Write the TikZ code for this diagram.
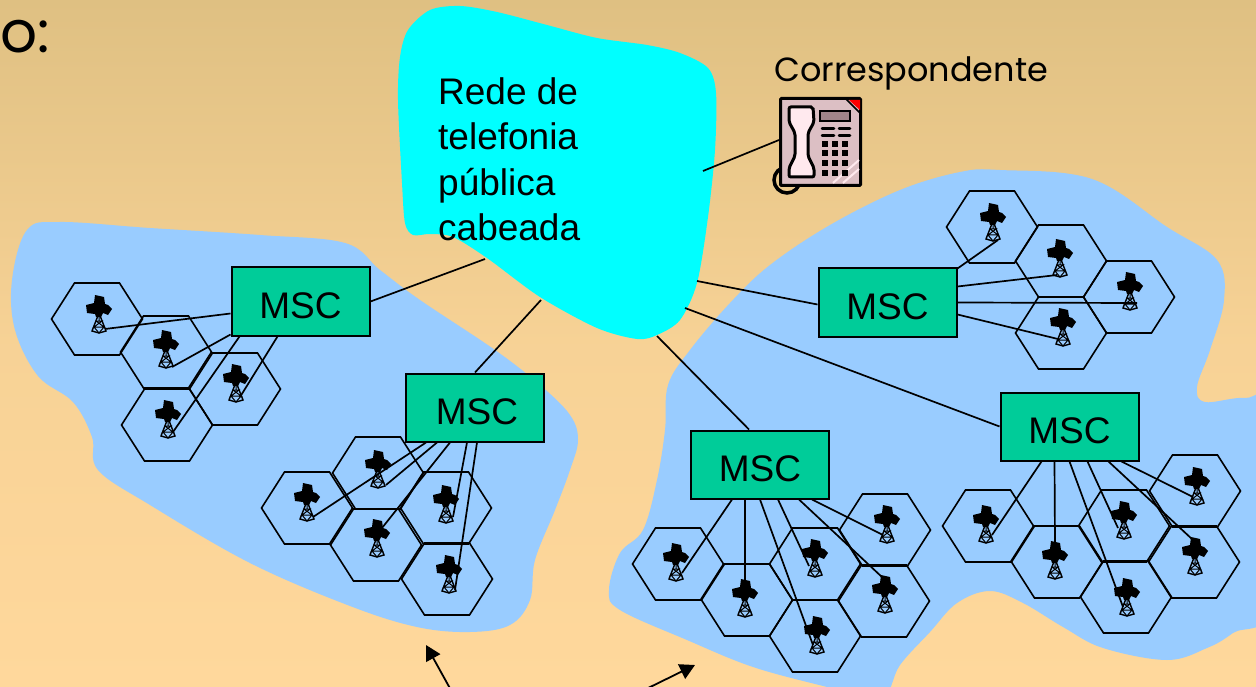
\documentclass[tikz,border=0pt]{standalone}
\usepackage{fontspec}
\setmainfont{Liberation Sans}
\newfontfamily\comicfont{Poppins}
\usetikzlibrary{arrows.meta}
\definecolor{sandTop}{HTML}{DFC082}
\definecolor{sandLow}{HTML}{FFD89C}
\definecolor{areaBlue}{HTML}{99CCFF}
\definecolor{netCyan}{RGB}{0,255,255}
\definecolor{mscGreen}{HTML}{00CC99}
\definecolor{phoneBody}{HTML}{DCBFC4}
\definecolor{phoneLight}{HTML}{FFE9EE}
\definecolor{phoneScreen}{HTML}{A08589}
\tikzset{
    msc/.style={
        draw, fill = mscGreen, line width = 2pt,
        minimum width = 138pt,
        minimum height = 68pt,
        inner sep = 0pt,
        text height = 34pt,
        text depth = 0pt,
        font = \fontsize{37}{37}\selectfont
    },
    line/.style = {line width = 1.7pt},
    pointer/.style = {line width = 1.8pt, -{Triangle[length=15pt,width=16pt]}},
    pics/hexcell/.style = {code = {
        \draw[line width = 1.6pt] (-45.5,0) -- (-22.5,-36) -- (22.5,-36) -- (45.5,0) -- (22.5,36) -- (-22.5,36) -- cycle;
    }},
    pics/tower/.style = {code = {
        \fill (-4,-38) -- (5,-36) -- (6,-29) -- (9,-28) -- (13,-24) -- (9,-18) -- (4,-20) -- (2,-16) -- (-3,-16) -- (-4,-19) -- (-12,-20) -- (-13,-28) -- (-5,-30) -- cycle;
        \draw[line width = 1.4pt] (0,-20) -- (-7,-2) -- (0,0) -- (7,-2) -- (0,-20);
        \draw[line width = 1pt] (-3,-12) -- (3,-12) -- (-5,-6) -- (5,-6) -- (-3,-12) (-5,-6) -- (0,0) -- (5,-6) (0,-20) -- (0,-12);
    }}
}
\begin{document}
\begin{tikzpicture}[x=1pt, y=-1pt]
    \useasboundingbox (0,0) rectangle (1256,687);
    \clip (0,0) rectangle (1256,687);
    \shade[top color=sandTop, bottom color=sandLow, middle color=sandLow!75!sandTop] (0,0) rectangle (1256,687);

    % Coverage areas
    \fill[areaBlue] plot[smooth cycle, tension=0.6] coordinates {
        (27,230) (60,222) (150,228) (260,235) (345,243) (380,270) (420,300) (495,350) (540,385) (570,415)
        (578,440) (570,470) (555,510) (535,560) (530,600) (510,625) (470,632) (417,627) (350,606)
        (250,563) (150,505) (98,470) (92,437) (73,402) (38,376) (15,330) (12,280)};
    \fill[areaBlue] plot[smooth cycle, tension=0.6] coordinates {
        (690,350) (730,303) (770,265) (830,225) (900,190) (960,172) (1000,170) (1092,179) (1167,227)
        (1217,260) (1224,300) (1210,350) (1197,387) (1205,402) (1245,398) (1275,410) (1275,600) (1233,633)
        (1207,648) (1167,660) (1103,648) (1063,627) (1023,603) (990,591) (957,603) (930,632) (900,665)
        (880,700) (827,687) (753,667) (687,640) (620,610) (609,590) (620,553) (643,530) (657,480) (665,430) (668,385)};

    % Public network
    \fill[netCyan] plot[smooth cycle, tension=0.5] coordinates {
        (460,6) (497,12) (547,25) (597,38) (647,45) (680,53) (708,68) (716,93) (715,150) (708,217)
        (697,283) (680,320) (657,335) (637,339) (597,328) (540,297) (487,258) (453,237) (430,234)
        (413,235) (405,223) (402,183) (398,100) (400,57) (408,30) (430,10)};
    \node[anchor=north west, inner sep=0pt, align=left, font=\fontsize{37}{45.3}\selectfont] (rede) at (438,77.5) {Rede de\\telefonia\\pública\\cabeada};
    \coordinate (netA) at (485,259);
    \coordinate (netB) at (541,300);
    \coordinate (netC) at (657,336);
    \coordinate (netD) at (685,308);
    \coordinate (netE) at (697,281);
    \coordinate (netF) at (703,171);

    % Cells and towers
    \foreach \name/\x/\y/\fx/\fy in {
        a1/97/319/99/333, a2/166/352/166/368, a3/235/389/236/402, a4/167/425/168/438,
        b1/307/508/307/521, b2/378/473/378/488, b3/446/508/446/523, b4/376/545/377/557, b5/447/579/449/593,
        c1/678/564/676/581, c2/747/600/745/617, c3/815/564/815/577, c4/885/530/887/543, c5/884/601/885/613, c6/815/636/817/654,
        d1/988/526/986/543, d2/1057/562/1055/579, d3/1124/526/1124/539, d4/1195/491/1197/505, d5/1194/562/1195/575, d6/1126/597/1127/616,
        e1/992/227/993/241, e2/1061/261/1060/277, e3/1129/297/1130/310, e4/1061/333/1063/346}{
        \pic at (\x,\y) {hexcell};
        \pic at (\fx,\fy) {tower};
        \coordinate (\name) at (\fx,\fy);
    }

    % Switching centres
    \node[msc] (mscA) at (300.5,301.5) {MSC};
    \node[msc] (mscB) at (475,407.5) {\hspace*{4pt}MSC};
    \node[msc] (mscC) at (760,464.5) {MSC};
    \node[msc] (mscD) at (1069.5,426.5) {MSC};
    \node[msc] (mscE) at (887.5,302.5) {MSC};

    % Telephone
    \draw[line width=3.5pt] (787,180) circle[radius=13pt];
    \node[draw, fill=phoneBody, line width=3pt, rounded corners=1pt, minimum width=80pt, minimum height=87pt, inner sep=0pt] (phone) at (820.5,142) {};
    \fill[red] (849,100) -- (860,100) -- (860,110) -- cycle;
    \draw[line width=1.5pt] (846,99) -- (860,113);
    \draw[phoneLight, line width=2pt] (833,183) -- (859,160) (843,183) -- (859,169);
    \draw[fill=phoneLight, line width=3pt, rounded corners=2pt] (789,107) -- (813,107) -- (814,122) -- (808,133) -- (808,156) -- (814,168) -- (814,177) -- (789,177) -- (789,168) -- (795,156) -- (795,133) -- (789,122) -- cycle;
    \draw[fill=phoneScreen, line width=1.5pt] (820,111) rectangle (850,121);
    \foreach \y in {128.5,135.5}{
        \draw[line width=2.5pt, line cap=round] (822,\y) -- (834,\y) (839,\y) -- (850,\y);
    }
    \foreach \x in {825,835,845}{
        \foreach \y in {144,153,163,173}{
            \fill (\x-3,\y-3) rectangle (\x+3,\y+3);
        }
    }
    \node[anchor=base west, inner sep=0pt, font=\comicfont\fontsize{33.5}{33.5}\selectfont] (corr) at (774,82) {Correspondente};
    \node[anchor=base west, inner sep=0pt, font=\comicfont\fontsize{58}{58}\selectfont] (title) at (0,53) {o:};

    % Lines
    \draw[line] (mscA.east) -- (netA);
    \draw[line] (mscB.north) -- (netB);
    \draw[line] ([shift={(-11,0)}]mscC.north) -- (netC);
    \draw[line] ([shift={(0,35)}]mscD.north west) -- (netD);
    \draw[line] ([shift={(0,37)}]mscE.north west) -- (netE);
    \draw[line] (netF) -- (phone.west |- 0,140);

    \draw[line] ([shift={(0,47)}]mscA.north west) -- ([shift={(6,-4)}]a1);
    \draw[line] ([shift={(0,68)}]mscA.north west) -- ([shift={(6,-1)}]a2);
    \draw[line] ([shift={(9,0)}]mscA.south west) -- ([shift={(5,-6)}]a4);
    \draw[line] ([shift={(47,0)}]mscA.south west) -- ([shift={(4,-5)}]a3);

    \draw[line] ([shift={(21,0)}]mscB.south west) -- ([shift={(6,-4)}]b1);
    \draw[line] ([shift={(32,0)}]mscB.south west) -- ([shift={(8,-3)}]b2);
    \draw[line] ([shift={(45,0)}]mscB.south west) -- ([shift={(5,-29)}]b4);
    \draw[line] ([shift={(62,0)}]mscB.south west) -- ([shift={(7,-6)}]b3);
    \draw[line] ([shift={(72,0)}]mscB.south west) -- ([shift={(6,-3)}]b5);

    \foreach \cen/\pre in {mscC/c, mscD/d}{
        \draw[line] ([shift={(42,0)}]\cen.south west) -- ([shift={(6,-8)}]\pre1);
        \draw[line] ([shift={(55,0)}]\cen.south west) -- ([shift={(0,-36)}]\pre2);
        \draw[line] ([shift={(70,0)}]\cen.south west) -- ([shift={(-4,-9)}]\pre6);
        \draw[line] ([shift={(88,0)}]\cen.south west) -- ([shift={(-6,-11)}]\pre3);
        \draw[line] ([shift={(109,0)}]\cen.south west) -- ([shift={(-2,-35)}]\pre5);
        \draw[line] ([shift={(122,0)}]\cen.south west) -- ([shift={(-4,-8)}]\pre4);
    }

    \draw[line] ([shift={(0,1)}]mscE.north east) -- ([shift={(5,-1)}]e1);
    \draw[line] ([shift={(0,19)}]mscE.north east) -- ([shift={(-3,-2)}]e2);
    \draw[line] ([shift={(0,35)}]mscE.north east) -- ([shift={(7,-7)}]e3);
    \draw[line] ([shift={(0,47)}]mscE.north east) -- ([shift={(-5,-7)}]e4);

    % Pointers
    \coordinate (tailA) at (452,692);
    \coordinate (tailB) at (640,692);
    \coordinate (headA) at (426,645);
    \coordinate (headB) at (695,665);
    \draw[pointer] (tailA) -- (headA);
    \draw[pointer] (tailB) -- (headB);
\end{tikzpicture}
\end{document}
